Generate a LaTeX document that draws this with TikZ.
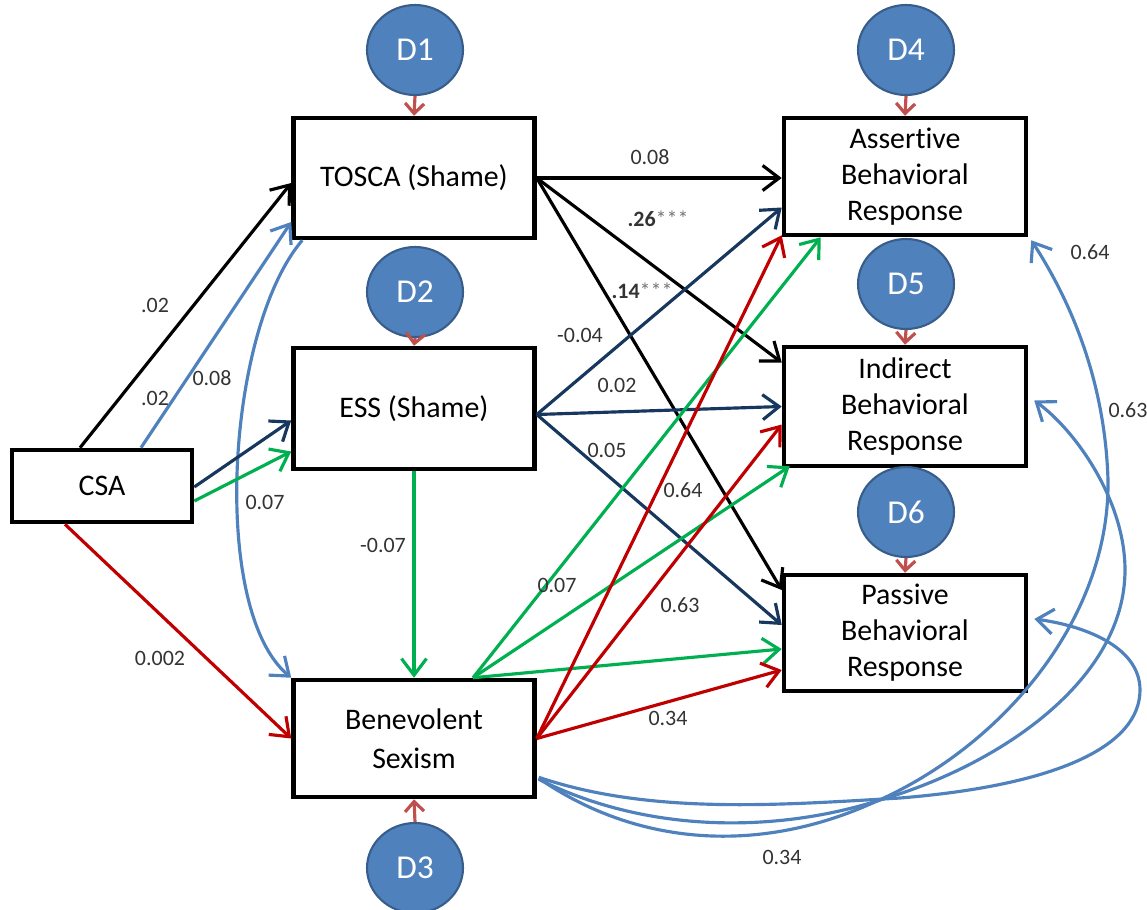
\documentclass[tikz,border=0pt]{standalone}
\usepackage{fontspec}
\setmainfont{Carlito}[Ligatures=NoCommon]
\usetikzlibrary{arrows.meta,shapes.geometric,calc}
\definecolor{navyc}{HTML}{17375E}
\definecolor{greenc}{HTML}{00B050}
\definecolor{redc}{HTML}{C00000}
\definecolor{lbluec}{HTML}{4F81BD}
\definecolor{dfill}{HTML}{4F81BD}
\definecolor{dborder}{HTML}{385D8A}
\definecolor{dredc}{HTML}{C0504D}
\begin{document}
\begin{tikzpicture}[x=0.02cm,y=-0.02cm,
  box/.style={draw, line width=2.6pt, rectangle, minimum width=4.82cm, inner sep=0pt, align=center, font=\fontsize{17}{20.5}\selectfont},
  dnode/.style={ellipse, draw=dborder, fill=dfill, line width=1.2pt, minimum width=1.92cm, minimum height=1.8cm, inner sep=0pt, text=white, font=\fontsize{19}{22}\selectfont},
  arr/.style={line width=1.8pt, -{Straight Barb[length=3.3mm,width=5mm]}},
  darr/.style={line width=1.8pt, draw=dredc, -{Straight Barb[length=2mm,width=3.8mm]}},
  lab/.style={font=\fontsize{12.5}{14}\selectfont, text=black!80, inner sep=0pt}
]
\useasboundingbox (0,0) rectangle (1147,910);

% boxes
\node[box, minimum height=2.4cm] (tosca) at (414,178) {TOSCA (Shame)};
\node[box, minimum height=2.42cm] (ess) at (414,408.5) {ESS (Shame)};
\node[box, minimum height=2.34cm] (bs) at (414,738.5) {Benevolent\\[1.5pt]Sexism};
\node[box, minimum width=3.6cm, minimum height=1.44cm] (csa) at (102,486) {CSA};
\node[box, minimum width=4.84cm, minimum height=2.34cm] (ass) at (905,176.5) {Assertive\\Behavioral\\Response};
\node[box, minimum width=4.84cm, minimum height=2.38cm] (ind) at (905,406.5) {Indirect\\Behavioral\\Response};
\node[box, minimum width=4.84cm, minimum height=2.32cm] (pas) at (905,633) {Passive\\Behavioral\\Response};

% disturbances
\node[dnode] (d1) at (415,50) {D1};
\node[dnode] (d2) at (415,292) {D2};
\node[dnode] (d3) at (415,868) {D3};
\node[dnode] (d4) at (906,50) {D4};
\node[dnode] (d5) at (906,284) {D5};
\node[dnode] (d6) at (906,512) {D6};
\draw[darr] (d1.south) -- (tosca.north);
\draw[darr] (d2.south) -- (ess.north);
\draw[darr] (d3.north) -- (bs.south);
\draw[darr] (d4.south) -- (ass.north);
\draw[darr] (d5.south) -- (ind.north);
\draw[darr] (d6.south) -- (pas.north);

% CSA paths
\draw[arr, black] ($(csa.north)+(-22,0)$) -- ($(tosca.west)+(0,5)$);
\draw[arr, lbluec] ($(csa.north)+(39,0)$) -- ($(tosca.west)+(0,44)$);
\draw[arr, lbluec] ($(tosca.south west)+(11,0)$) .. controls (226,330) and (210,610) .. (bs.north west);
\draw[arr, navyc] ($(csa.east)+(0,1)$) -- ($(ess.west)+(0,12)$);
\draw[arr, greenc] ($(csa.east)+(0,15)$) -- ($(ess.west)+(0,43)$);
\draw[arr, redc] ($(csa.south)+(-37,0)$) -- (bs.west);
\draw[arr, greenc] (ess.south) -- (bs.north);

% TOSCA outputs
\draw[arr, black] (tosca.east) -- (tosca.east -| ass.west);
\draw[arr, black] (tosca.east) -- ($(ind.west)+(0,-44)$);
\draw[arr, black] (tosca.east) -- ($(pas.west)+(0,-43)$);

% ESS outputs
\draw[arr, navyc] ($(ess.east)+(0,6)$) -- ($(ass.west)+(0,31)$);
\draw[arr, navyc] ($(ess.east)+(0,6)$) -- (ind.west);
\draw[arr, navyc] ($(ess.east)+(0,6)$) -- ($(pas.west)+(0,-8)$);

% BS outputs
\draw[arr, greenc] ($(bs.north)+(59,0)$) -- ($(ass.south west)+(39,0)$);
\draw[arr, greenc] ($(bs.north)+(59,0)$) -- ($(ind.south west)+(8,-2)$);
\draw[arr, greenc] ($(bs.north)+(59,0)$) -- ($(pas.west)+(0,16)$);
\draw[arr, redc] (bs.east) -- ($(ass.south west)+(0,-2)$);
\draw[arr, redc] (bs.east) -- ($(ind.west)+(0,18)$);
\draw[arr, redc] (bs.east) -- ($(pas.west)+(0,37)$);

% correlations (curves)
\draw[arr, lbluec] ($(bs.south east)+(2,-21)$) .. controls (640,848) and (760,852) .. (868,805)
   .. controls (1000,750) and (1110,620) .. (1108,480)
   .. controls (1105,380) and (1070,300) .. ($(ass.south east)+(3,3)$);
\draw[arr, lbluec] ($(bs.south east)+(2,-20)$) .. controls (650,835) and (780,832) .. (880,800)
   .. controls (1000,765) and (1125,680) .. (1125,570)
   .. controls (1125,500) and (1075,430) .. ($(ind.east)+(6,-6)$);
\draw[arr, lbluec] ($(bs.south east)+(2,-22)$) .. controls (650,815) and (780,805) .. (900,798)
   .. controls (1060,785) and (1140,745) .. (1140,690)
   .. controls (1140,645) and (1080,625) .. ($(pas.east)+(6,-14)$);

% labels
\node[lab] (l1) at (155,305) {.02};
\node[lab] (l2) at (155,398) {.02};
\node[lab] (l3) at (212,378) {0.08};
\node[lab] (l4) at (265,502) {0.07};
\node[lab] (l5) at (160,658) {0.002};
\node[lab] (l6) at (383,545) {-0.07};
\node[lab] (l7) at (650,157) {0.08};
\node[lab] (l8) at (658,219) {\textbf{.26}{\color{black!55}***}};
\node[lab] (l9) at (642,291) {\textbf{.14}{\color{black!55}***}};
\node[lab] (l10) at (580,335) {-0.04};
\node[lab] (l11) at (617,385) {0.02};
\node[lab] (l12) at (607,450) {0.05};
\node[lab] (l13) at (683,490) {0.64};
\node[lab] (l14) at (557,585) {0.07};
\node[lab] (l15) at (680,605) {0.63};
\node[lab] (l16) at (668,718) {0.34};
\node[lab] (l17) at (782,857) {0.34};
\node[lab] (l18) at (1090,252) {0.64};
\node[lab] (l19) at (1128,410) {0.63};
\end{tikzpicture}
\end{document}
